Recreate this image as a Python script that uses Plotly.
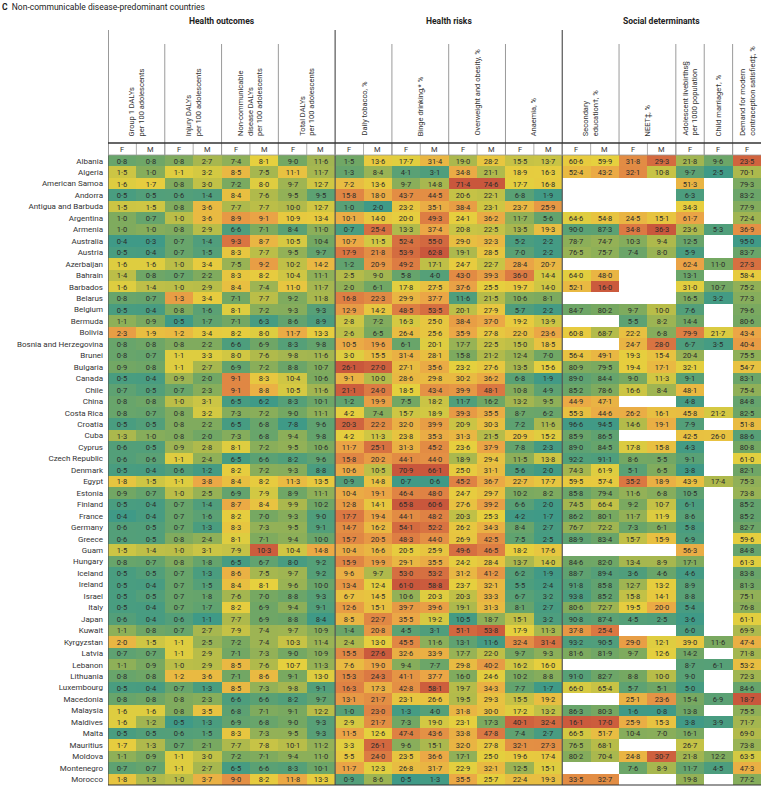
import plotly.graph_objects as go
import numpy as np

N = None
countries = ["Albania", "Algeria", "American Samoa", "Andorra", "Antigua and Barbuda", "Argentina", "Armenia",
             "Australia", "Austria", "Azerbaijan", "Bahrain", "Barbados", "Belarus", "Belgium", "Bermuda", "Bolivia",
             "Bosnia and Herzegovina", "Brunei", "Bulgaria", "Canada", "Chile", "China", "Costa Rica", "Croatia",
             "Cuba", "Cyprus", "Czech Republic", "Denmark", "Egypt", "Estonia", "Finland", "France", "Germany",
             "Greece", "Guam", "Hungary", "Iceland", "Ireland", "Israel", "Italy", "Japan", "Kuwait", "Kyrgyzstan",
             "Latvia", "Lebanon", "Lithuania", "Luxembourg", "Macedonia", "Malaysia", "Maldives", "Malta",
             "Mauritius", "Moldova", "Montenegro", "Morocco"]

group1_f = [0.8,1.5,1.6,0.5,1.5,1.0,1.0,0.4,0.5,1.6,1.4,1.6,0.8,0.5,1.1,2.3,0.8,0.8,0.9,0.5,0.7,0.8,0.8,0.5,1.3,0.6,0.6,0.5,1.8,0.9,0.5,0.4,0.6,0.6,1.5,0.8,0.5,0.5,0.5,0.5,0.6,1.1,2.0,0.7,1.1,0.8,0.5,0.8,1.6,1.6,0.5,1.7,1.1,0.7,1.8]
group1_m = [0.8,1.0,1.7,0.5,1.5,0.7,1.0,0.3,0.4,1.6,0.8,1.4,0.7,0.4,0.9,1.9,0.8,0.7,0.8,0.4,0.5,0.8,0.7,0.5,1.0,0.5,0.6,0.4,1.5,0.7,0.4,0.4,0.5,0.5,1.4,0.7,0.5,0.4,0.5,0.4,0.4,0.8,1.5,0.7,0.9,0.8,0.4,0.8,1.6,1.2,0.5,1.3,0.9,0.7,1.3]
injury_f = [0.8,1.1,0.8,0.6,0.8,1.0,0.8,0.7,0.7,1.0,0.7,1.0,1.3,0.8,0.5,1.2,0.8,1.1,1.1,0.9,0.7,1.0,0.8,0.8,0.8,0.9,1.1,0.6,1.1,1.0,0.7,0.7,0.7,0.8,1.0,0.8,0.7,0.7,0.7,0.7,0.6,0.7,1.1,1.1,1.0,1.2,0.7,0.8,0.8,0.5,0.6,0.7,1.1,1.1,1.0]
injury_m = [2.7,3.2,3.0,1.4,3.6,3.6,2.9,1.4,1.5,3.4,2.2,2.9,3.4,1.6,1.7,3.4,2.2,3.3,2.7,2.0,2.3,3.1,3.2,2.2,2.0,2.8,2.4,1.2,3.8,2.5,1.4,1.6,1.3,2.4,3.1,1.8,1.3,1.5,1.8,1.7,1.1,2.7,2.5,2.9,2.9,3.6,1.3,2.3,3.5,1.3,1.5,2.1,3.0,2.7,3.7]
ncd_f = [7.4,8.5,7.2,8.4,7.7,8.9,6.6,9.3,8.3,7.5,8.3,8.4,7.1,8.1,7.1,8.2,6.6,8.0,6.9,9.1,9.1,6.5,7.3,6.5,7.3,8.1,6.5,8.2,8.4,6.9,8.7,8.2,8.3,8.1,7.9,6.5,8.6,8.4,7.6,8.2,7.7,7.9,7.2,7.1,8.5,7.1,8.5,6.6,6.8,6.9,8.3,7.7,7.2,6.5,9.0]
ncd_m = [8.1,7.5,8.0,7.6,7.7,9.1,7.1,8.7,7.7,9.2,8.2,7.4,7.7,7.2,6.3,8.0,6.9,7.6,7.2,8.3,8.8,6.2,7.2,6.8,6.8,7.2,6.6,7.2,8.2,7.9,8.4,7.0,7.3,7.1,10.3,6.7,7.5,8.1,7.0,6.9,6.9,7.4,7.4,7.3,7.6,8.6,7.3,6.6,7.1,6.8,7.3,7.8,7.1,6.6,8.2]
total_f = [9.0,11.1,9.7,9.5,10.0,10.9,8.4,10.5,9.5,10.2,10.4,11.0,9.2,9.3,8.6,11.7,8.3,9.8,8.8,10.4,10.5,8.3,9.0,7.8,9.4,9.5,8.2,9.3,11.3,8.9,9.9,9.3,9.5,9.4,10.4,8.0,9.7,9.6,8.8,9.4,8.8,9.7,10.3,9.0,10.7,9.1,9.8,8.2,9.1,9.0,9.5,10.1,9.4,8.3,11.8]
total_m = [11.6,11.7,12.7,9.5,12.7,13.4,11.0,10.4,9.7,14.2,11.1,11.7,11.8,9.3,8.9,13.3,9.8,11.6,10.7,10.6,11.6,10.1,11.1,9.6,9.8,10.6,9.6,8.8,13.5,11.1,10.2,9.0,9.1,10.0,14.8,9.2,9.2,10.0,9.3,9.1,8.4,10.9,11.4,10.9,11.3,13.0,9.1,9.7,12.2,9.3,9.3,11.2,11.0,10.1,13.3]
tobacco_f = [1.5,1.3,7.2,15.8,1.0,10.1,0.7,10.7,17.9,1.2,2.5,2.0,16.8,12.9,2.8,2.6,10.5,3.0,26.1,9.1,21.1,1.2,4.2,20.3,4.2,11.7,15.8,10.6,0.9,10.4,12.8,17.7,14.7,15.7,10.4,15.9,9.6,13.4,6.7,12.6,8.5,1.4,2.4,15.5,7.6,15.3,16.3,13.1,1.0,2.9,11.5,3.3,5.5,11.7,0.9]
tobacco_m = [13.6,8.4,13.6,18.0,2.0,14.0,25.4,11.5,21.8,20.9,9.0,6.1,22.3,14.2,7.2,6.5,19.6,15.5,27.0,10.0,24.0,19.9,7.4,22.2,11.3,25.1,20.2,10.5,14.8,19.1,14.1,19.4,16.2,20.5,16.6,19.9,9.7,12.4,14.5,15.1,22.7,20.8,13.0,27.6,19.0,24.3,17.3,21.7,23.0,21.7,12.6,26.1,24.0,12.3,8.6]
binge_f = [17.7,4.1,9.7,43.7,23.2,20.0,13.3,52.4,53.9,49.2,5.8,17.8,29.9,48.5,16.3,26.4,6.1,31.4,27.1,28.6,18.5,7.5,15.7,32.0,23.8,31.3,44.1,70.9,0.7,46.4,65.8,44.1,54.1,48.3,20.5,29.1,53.0,61.0,10.6,39.7,35.5,4.5,45.5,32.6,9.4,41.1,42.8,23.1,1.3,7.3,47.4,9.6,23.5,26.8,0.5]
binge_m = [31.4,3.1,14.8,44.5,35.1,49.3,37.4,55.0,62.8,17.1,4.0,27.5,37.7,53.5,25.0,25.6,20.1,28.1,35.6,29.8,43.4,18.2,18.9,39.9,35.3,45.2,44.0,66.1,0.6,48.0,60.6,48.2,52.2,44.0,25.9,35.5,53.2,58.8,20.3,39.6,19.2,3.1,11.6,33.9,7.7,37.7,58.1,26.6,4.0,19.0,43.6,15.1,36.6,31.7,1.3]
overweight_f = [19.0,34.8,71.4,20.6,38.4,24.1,20.8,29.0,19.1,24.7,43.0,37.6,11.6,20.1,38.4,35.9,17.7,15.8,23.2,30.2,39.9,11.7,39.3,20.9,31.3,23.6,18.9,25.0,45.2,24.7,27.6,20.3,26.2,26.9,49.6,24.2,31.2,23.7,20.3,19.1,10.5,51.1,13.1,17.7,29.8,16.0,19.7,19.5,31.8,23.1,33.8,32.0,17.1,22.9,35.5]
overweight_m = [28.2,21.1,74.6,22.1,23.1,36.2,22.5,32.3,28.5,22.7,39.3,25.5,21.5,27.9,37.0,27.8,22.5,21.2,27.6,36.2,48.1,16.2,35.5,30.3,21.5,37.9,29.4,31.1,36.7,29.7,39.2,25.3,34.3,42.5,46.5,28.4,41.2,32.1,33.3,31.3,18.7,53.8,11.6,22.0,40.2,24.6,34.3,29.3,30.0,17.3,47.8,27.8,25.0,32.1,25.7]
anaemia_f = [15.5,18.9,17.7,6.8,23.7,11.7,13.5,5.2,7.0,28.4,36.0,19.7,10.6,5.7,19.2,22.0,15.0,12.4,13.5,6.8,10.8,13.2,8.7,7.2,20.9,7.8,11.5,5.6,22.7,10.2,6.6,4.2,8.4,7.5,18.2,13.7,6.2,5.5,6.7,8.1,15.1,17.9,32.4,9.7,16.2,10.2,7.7,15.5,17.2,40.1,7.4,32.1,19.6,12.5,22.4]
anaemia_m = [13.7,16.3,16.8,1.9,25.9,5.6,19.3,2.2,2.2,20.7,14.4,14.0,8.1,2.2,13.9,23.6,18.5,7.0,15.6,1.9,4.9,9.5,6.2,11.6,15.2,2.3,13.8,2.0,17.7,8.2,2.0,1.7,2.7,2.5,17.6,14.0,1.9,2.4,3.2,2.7,3.2,11.3,31.4,9.3,16.0,8.8,1.7,19.2,13.2,32.4,2.7,27.3,17.4,15.1,19.3]
education_f = [60.6,52.4,N,N,N,64.6,90.0,78.7,76.5,N,64.0,52.1,N,84.7,N,60.8,N,56.4,80.9,89.0,85.2,44.9,55.3,96.6,85.9,89.0,92.2,74.3,59.5,85.8,74.5,86.2,76.7,88.9,N,84.6,88.7,91.8,93.8,80.6,90.8,37.8,93.2,81.6,N,91.0,66.0,N,86.3,16.1,66.5,76.5,80.2,N,33.5]
education_m = [59.9,43.2,N,N,N,54.8,87.3,74.7,75.7,N,48.0,16.0,N,80.2,N,68.7,N,49.1,79.5,84.4,78.6,47.1,44.6,94.5,86.5,84.5,91.1,61.9,57.4,79.4,66.4,80.1,72.2,83.4,N,82.0,89.4,85.8,85.2,72.7,87.4,25.4,90.5,81.9,N,82.7,65.4,N,80.3,17.0,51.7,68.1,70.4,N,32.7]
neet_f = [31.8,32.1,N,N,N,24.5,34.8,10.3,7.4,N,N,N,N,9.7,5.5,22.2,24.7,19.3,19.4,9.0,16.6,N,26.2,14.6,N,17.8,8.6,5.1,35.2,11.6,9.2,11.7,7.3,15.7,N,13.4,3.6,12.7,15.8,19.5,4.5,N,29.0,9.7,N,8.8,5.7,25.1,1.6,25.9,10.4,N,24.8,7.6,N]
neet_m = [29.3,10.8,N,N,N,15.1,36.3,9.4,8.0,N,N,N,N,10.0,8.2,6.8,28.0,15.4,17.1,11.3,8.4,N,16.1,19.1,N,15.8,5.5,6.5,18.9,6.8,10.7,11.9,6.1,15.9,N,8.9,4.6,13.2,14.1,20.0,2.5,N,12.1,12.6,N,10.0,5.1,23.6,0.8,15.3,7.0,N,30.7,8.9,N]
livebirths_f = [21.8,9.7,51.3,6.3,34.3,61.7,23.6,12.5,5.9,62.4,13.1,31.0,16.5,7.6,14.4,79.9,6.7,20.4,32.1,9.1,48.1,4.8,45.8,7.9,42.5,4.3,9.1,3.8,43.9,10.5,6.1,8.6,5.8,6.9,56.3,17.1,4.6,8.9,8.8,5.4,3.6,6.0,39.0,14.2,8.7,9.0,5.0,15.4,13.8,3.8,16.1,26.7,21.8,11.7,19.8]
child_marriage_f = [9.6,2.5,N,N,N,N,5.3,N,N,11.0,N,10.7,3.2,N,N,21.7,3.5,N,N,N,N,N,21.2,N,26.0,N,N,N,17.4,N,N,N,N,N,N,N,N,N,N,N,N,N,11.6,N,6.1,N,N,6.9,N,3.9,N,N,12.2,4.5,N]
contraception_f = [23.5,70.1,79.3,83.2,77.9,72.4,36.9,95.0,83.7,27.3,58.4,75.2,77.3,79.6,80.6,43.4,40.4,75.5,54.7,83.1,75.4,84.8,82.5,51.8,88.6,80.8,61.0,82.1,75.3,73.8,85.2,85.2,82.7,59.6,84.8,61.3,83.8,81.3,75.1,76.8,61.1,69.9,47.4,71.8,53.2,72.3,84.6,18.7,75.5,71.7,69.0,73.8,63.5,47.3,77.2]

columns = [group1_f, group1_m, injury_f, injury_m, ncd_f, ncd_m, total_f, total_m,
           tobacco_f, tobacco_m, binge_f, binge_m, overweight_f, overweight_m, anaemia_f, anaemia_m,
           education_f, education_m, neet_f, neet_m, livebirths_f, child_marriage_f, contraception_f]
sex_labels = ["F", "M"] * 8 + ["F", "M", "F", "M", "F", "F", "F"]

sections = ["Health outcomes", "Health risks", "Social determinants"]
indicator_labels = ["Group 1 DALYs<br>per 100 adolescents", "Injury DALYs<br>per 100 adolescents",
                    "Non-communicable<br>disease DALYs<br>per 100 adolescents", "Total DALYs<br>per 100 adolescents",
                    "Daily tobacco, %", "Binge drinking,* %", "Overweight and obesity, %", "Anaemia, %",
                    "Secondary<br>education†, %", "NEET‡, %", "Adolescent livebirths§<br>per 1000 population",
                    "Child marriage†, %", "Demand for modern<br>contraception satisfied‡, %"]

# ---- style: colour stops per column (value at green, yellow, red) ----
COLOR_STOPS = [(0.4, 1.6, 3.0), (0.3, 1.6, 3.0), (0.5, 1.1, 1.5), (1.1, 3.3, 4.5),
               (6.4, 8.1, 9.6), (6.2, 8.0, 10.4), (7.8, 10.6, 13.5), (8.4, 13.0, 17.5),
               (0.5, 3.0, 22.0), (2.0, 12.0, 28.0), (0.5, 17.0, 60.0), (0.6, 20.0, 60.0),
               (10.0, 22.0, 55.0), (11.0, 24.0, 55.0), (4.0, 17.0, 42.0), (1.7, 15.0, 35.0),
               (97.0, 65.0, 15.0), (95.0, 62.0, 15.0), (1.5, 18.0, 40.0), (0.8, 12.0, 32.0),
               (3.5, 30.0, 100.0), (2.5, 22.0, 45.0), (95.0, 62.0, 20.0)]
colorscale = [[0.0, "#3f9a87"], [0.22, "#75a862"], [0.4, "#b4bb4a"], [0.52, "#e6d03e"],
              [0.72, "#eba646"], [0.88, "#dc7a43"], [1.0, "#c9573c"]]


def norm(v, stops):
    lo, mid, hi = stops
    if lo < hi:
        return float(np.interp(v, [lo, mid, hi], [0, 0.5, 1]))
    return float(np.interp(v, [hi, mid, lo], [1, 0.5, 0]))


nrow, ncol = len(countries), len(columns)
z = [[None] * ncol for _ in range(nrow)]
txt = [[""] * ncol for _ in range(nrow)]
for j, col in enumerate(columns):
    for i, v in enumerate(col):
        if v is not None:
            z[i][j] = norm(v, COLOR_STOPS[j])
            txt[i][j] = f"{v:.1f}".replace(".", "·")

W, H = 761, 786
L, T, B, R = 108, 155, 1, 0
PH = H - T - B


def py(p):
    return (H - B - p) / PH


FONT = "Roboto"
fig = go.Figure(go.Heatmap(
    x=list(range(ncol)), y=countries, z=z, text=txt, texttemplate="%{text}",
    textfont=dict(size=7.5, color="#2b2b2b", family=FONT),
    colorscale=colorscale, zmin=0, zmax=1, showscale=False, hoverinfo="skip",
    xgap=0, ygap=0))

shapes = []
ann = []
line_dark = "#555555"
line_grey = "#9a9a9a"
HEAD_TOP = 30
groups = [(0, 1), (2, 3), (4, 5), (6, 7), (8, 9), (10, 11), (12, 13), (14, 15),
          (16, 17), (18, 19), (20, 20), (21, 21), (22, 22)]
section_spans = [(0, 7), (8, 15), (16, 22)]

for xb in [-0.5, 7.5, 15.5]:
    shapes.append(dict(type="line", xref="x", yref="paper", x0=xb, x1=xb, y0=0, y1=py(HEAD_TOP),
                       line=dict(color=line_dark, width=1.2)))
for (a, b) in groups:
    xb = b + 0.5
    if xb in (7.5, 15.5, 22.5):
        continue
    shapes.append(dict(type="line", xref="x", yref="paper", x0=xb, x1=xb, y0=1, y1=py(HEAD_TOP + 14),
                       line=dict(color=line_grey, width=1)))
for k in range(ncol - 1):
    shapes.append(dict(type="line", xref="x", yref="paper", x0=k + 0.5, x1=k + 0.5, y0=1, y1=py(143),
                       line=dict(color=line_grey, width=0.8)))
shapes.append(dict(type="line", xref="x", yref="paper", x0=-0.5, x1=22.5, y0=py(143), y1=py(143),
                   line=dict(color="#333333", width=1.5)))
shapes.append(dict(type="line", xref="x", yref="paper", x0=-0.5, x1=22.5, y0=1, y1=1,
                   line=dict(color=line_grey, width=0.8)))
shapes.append(dict(type="line", xref="x", yref="paper", x0=-0.5, x1=22.5, y0=0, y1=0,
                   line=dict(color="#333333", width=1.2)))

for k, s in enumerate(sex_labels):
    ann.append(dict(x=k, y=py(149), xref="x", yref="paper", text=s, showarrow=False,
                    font=dict(size=7.5, color="#333", family=FONT), xanchor="center", yanchor="middle"))

for (a, b), lab in zip(groups, indicator_labels):
    ann.append(dict(x=(a + b) / 2, y=py(138), xref="x", yref="paper", text=lab, showarrow=False,
                    textangle=-90, align="left", xanchor="center", yanchor="bottom",
                    font=dict(size=7.5, color="#333", family=FONT)))

for (a, b), s in zip(section_spans, sections):
    ann.append(dict(x=(a + b) / 2, y=py(21), xref="x", yref="paper", text=f"<b>{s}</b>", showarrow=False,
                    xanchor="center", yanchor="middle", font=dict(size=8.5, color="#222", family=FONT)))

ann.append(dict(x=-L / (W - L - R), y=py(7), xref="paper", yref="paper",
                text="<b>C</b>  Non-communicable disease-predominant countries", showarrow=False,
                xanchor="left", yanchor="middle", font=dict(size=8.5, color="#222", family=FONT)))

fig.update_layout(
    width=W, height=H, margin=dict(l=L, r=R, t=T, b=B, pad=0),
    plot_bgcolor="white", paper_bgcolor="white",
    xaxis=dict(range=[-0.5, 22.5], visible=False, fixedrange=True),
    yaxis=dict(autorange="reversed", ticks="", showgrid=False, zeroline=False, showline=False,
               tickfont=dict(size=8, color="#333", family=FONT), ticklabelstandoff=4, fixedrange=True),
    shapes=shapes, annotations=ann, font=dict(family=FONT))

fig.write_html("out.html", config={"displayModeBar": False})

# remove default page margin so the 761x786 figure fills the window exactly
with open("out.html", "r", encoding="utf-8") as f:
    html = f.read()
html = html.replace("<head>", "<head><style>html,body{margin:0;padding:0;overflow:hidden;}</style>", 1)
with open("out.html", "w", encoding="utf-8") as f:
    f.write(html)
